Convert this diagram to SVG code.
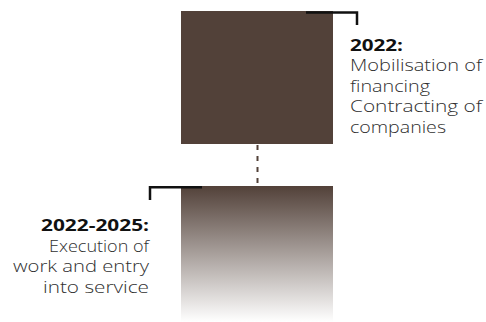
<svg xmlns="http://www.w3.org/2000/svg" width="486" height="322" viewBox="0 0 486 322">
<style>
.bold{font-family:"Open Sans","Liberation Sans",sans-serif;font-weight:700;font-size:16px;fill:#111}
.body{font-family:"Open Sans","Liberation Sans",sans-serif;font-weight:300;font-size:16px;fill:#2f2f2f}
.bracket{fill:none;stroke:#111;stroke-width:2.5}
</style>
<defs>
<linearGradient id="fade" x1="0" y1="0" x2="0" y2="1">
<stop offset="0" stop-color="#524139"/>
<stop offset="1" stop-color="#ffffff"/>
</linearGradient>
</defs>
<g id="phase-2022">
<rect x="181" y="11" width="152" height="133" fill="#524139"/>
<polyline class="bracket" points="306,12.5 357,12.5 357,25"/>
<text class="bold" x="350" y="51" textLength="53" lengthAdjust="spacingAndGlyphs">2022:</text>
<text class="body" x="350" y="71" textLength="132" lengthAdjust="spacingAndGlyphs">Mobilisation of</text>
<text class="body" x="350" y="91.5" textLength="80" lengthAdjust="spacingAndGlyphs">financing</text>
<text class="body" x="350" y="112" textLength="132" lengthAdjust="spacingAndGlyphs">Contracting of</text>
<text class="body" x="350" y="132.5" textLength="96" lengthAdjust="spacingAndGlyphs">companies</text>
</g>
<g id="phase-2022-2025">
<rect x="181" y="186" width="152" height="136" fill="url(#fade)"/>
<polyline class="bracket" points="202,187.25 150,187.25 150,200"/>
<text class="bold" x="149" y="231" text-anchor="end" textLength="108" lengthAdjust="spacingAndGlyphs">2022-2025:</text>
<text class="body" x="149" y="251.5" text-anchor="end" textLength="100" lengthAdjust="spacingAndGlyphs">Execution of</text>
<text class="body" x="149" y="272" text-anchor="end" textLength="136" lengthAdjust="spacingAndGlyphs">work and entry</text>
<text class="body" x="149" y="292.5" text-anchor="end" textLength="106" lengthAdjust="spacingAndGlyphs">into service</text>
</g>
<g id="connectors">
<line x1="257.5" y1="145" x2="257.5" y2="186" stroke="#524139" stroke-width="2" stroke-dasharray="5 6"/>
</g>
</svg>
